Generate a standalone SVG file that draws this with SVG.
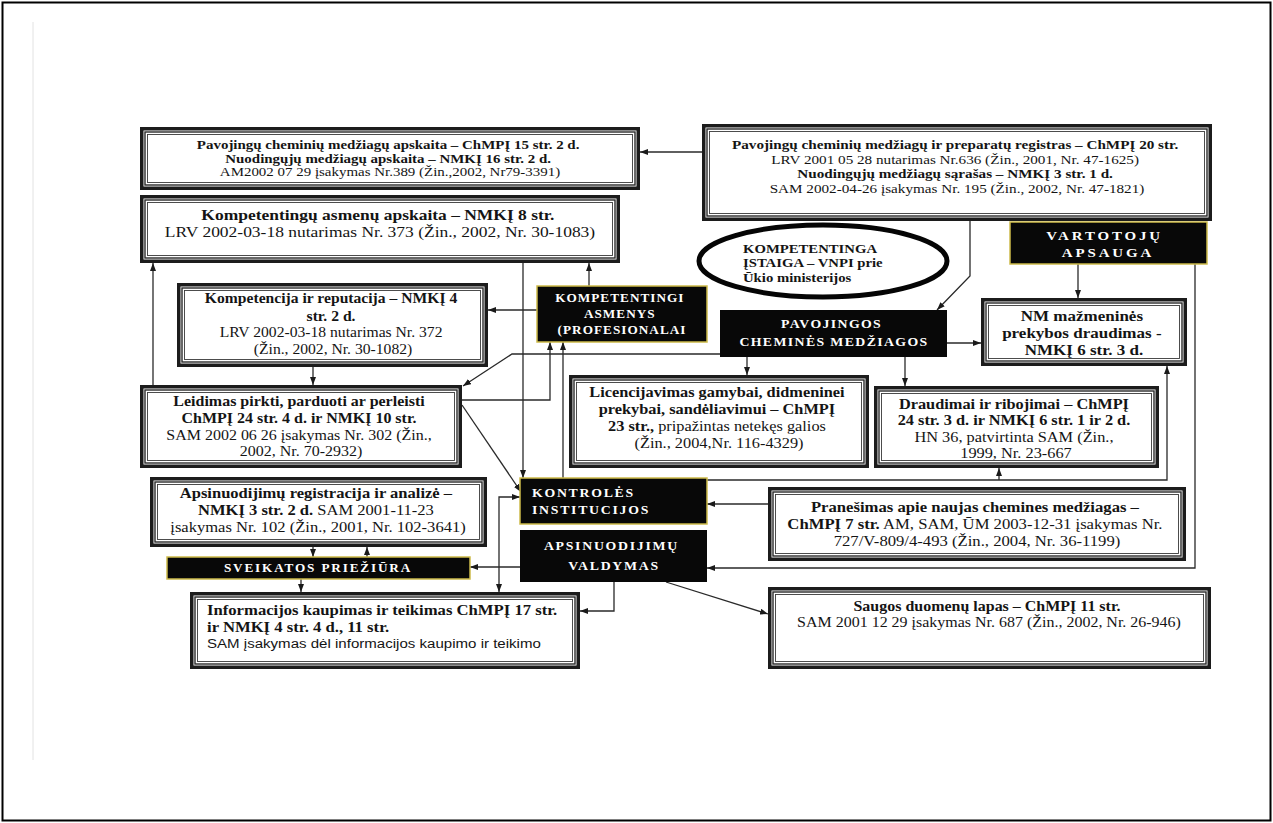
<svg xmlns="http://www.w3.org/2000/svg" width="1273" height="823" viewBox="0 0 1273 823">
<defs>
<style>
.f1{fill:#fff;stroke:#1c1c1c;stroke-width:3.5}
.f2{fill:none;stroke:#2a2a2a;stroke-width:1.4}
.f3{fill:none;stroke:#3a3a3a;stroke-width:0.9}
.blk{fill:#080808}
.yb{stroke:#cdbb4a;stroke-width:1.5}
.t{font-family:"Liberation Serif","Times New Roman",serif;fill:#141414;text-anchor:middle}
.tl{font-family:"Liberation Serif","Times New Roman",serif;fill:#141414;text-anchor:start}
.sans{font-family:"Liberation Sans",Arial,sans-serif}
.b{font-weight:bold}
.w{font-family:"Liberation Serif","Times New Roman",serif;fill:#fff;font-weight:bold;text-anchor:middle}
.wl{font-family:"Liberation Serif","Times New Roman",serif;fill:#fff;font-weight:bold;text-anchor:start}
.c{fill:none;stroke:#2a2a2a;stroke-width:1.3}
.ca{fill:none;stroke:#2a2a2a;stroke-width:1.3;marker-end:url(#ah)}
</style>
<marker id="ah" viewBox="0 0 8 6" refX="8" refY="3" markerWidth="8" markerHeight="6" markerUnits="userSpaceOnUse" orient="auto-start-reverse"><path d="M0,0 L8,3 L0,6 z" fill="#1a1a1a"/></marker>
</defs>
<rect x="0" y="0" width="1273" height="823" fill="#fff"/>
<rect x="2.5" y="2.5" width="1268" height="818" fill="none" stroke="#000" stroke-width="2"/>
<line x1="33" y1="22" x2="33" y2="760" stroke="#e2e2e2" stroke-width="1"/>

<g id="connectors">
<path class="ca" d="M702,152 H640"/>
<path class="ca" d="M970,221 V276 L937,310"/>
<path class="ca" d="M1078,264 V298"/>
<path class="ca" d="M1195,264 V568 H707"/>
<path class="ca" d="M947,343 H981"/>
<path class="ca" d="M747,357 V375"/>
<path class="ca" d="M905,357 V386"/>
<path class="ca" d="M720,354 H512 L463,386"/>
<path class="ca" d="M707,480 H1167 V366"/>
<path class="ca" d="M999,480 V468"/>
<path class="ca" d="M768,504 H707"/>
<path class="ca" d="M589,286 V263"/>
<path class="ca" d="M537,310 H488"/>
<path class="ca" d="M523,263 V478"/>
<path class="ca" d="M153,385 V263"/>
<path class="ca" d="M313,367 V385"/>
<path class="ca" d="M462,400 H550 V342"/>
<path class="ca" d="M462,405 L521,492"/>
<path class="ca" d="M563,478 V342"/>
<path class="ca" d="M520,497 H499 V592" marker-start="url(#ah)"/>
<path class="ca" d="M520,567 H470"/>
<path class="ca" d="M614,582 V611 H580"/>
<path class="ca" d="M666,582 L768,614"/>
<path class="ca" d="M301,579 V592"/>
<path class="ca" d="M313,547 V557"/>
<path class="ca" d="M367,557 V547"/>
</g>

<g id="n-apskaita">
<rect class="f1" x="141.75" y="128.75" width="496.5" height="59.5"/>
<rect class="f2" x="145" y="132" width="490" height="53"/>
<rect class="f3" x="147.5" y="134.5" width="485" height="48"/>
<text class="t" font-size="13" transform="translate(390 0) scale(1.15 1)">
<tspan x="0" y="149.5" class="b">Pavojingų cheminių medžiagų apskaita – ChMPĮ 15 str. 2 d.</tspan>
<tspan x="0" y="163" class="b">Nuodingųjų medžiagų apskaita – NMKĮ 16 str. 2 d.</tspan>
<tspan x="0" y="176.5">AM2002 07 29 įsakymas Nr.389 (Žin.,2002, Nr79-3391)</tspan>
</text>
</g>

<g id="n-registras">
<rect class="f1" x="703.75" y="125.75" width="506.5" height="93.5"/>
<rect class="f2" x="707" y="129" width="500" height="87"/>
<rect class="f3" x="709.5" y="131.5" width="495" height="82"/>
<text class="t" font-size="13.2" transform="translate(957 0) scale(1.15 1)">
<tspan x="0" y="149.5" class="b">Pavojingų cheminių medžiagų ir preparatų registras – ChMPĮ 20 str.</tspan>
<tspan x="0" y="164">LRV 2001 05 28 nutarimas Nr.636 (Žin., 2001, Nr. 47-1625)</tspan>
<tspan x="0" y="178.5" class="b">Nuodingųjų medžiagų sąrašas – NMKĮ 3 str. 1 d.</tspan>
<tspan x="0" y="193">SAM 2002-04-26 įsakymas Nr. 195 (Žin., 2002, Nr. 47-1821)</tspan>
</text>
</g>

<g id="n-asmenu-apskaita">
<rect class="f1" x="141.75" y="196.75" width="476.5" height="64.5"/>
<rect class="f2" x="145" y="200" width="470" height="58"/>
<rect class="f3" x="147.5" y="202.5" width="465" height="53"/>
<text class="t" font-size="15.2" transform="translate(380 0) scale(1.15 1)">
<tspan x="0" y="220" class="b">Kompetentingų asmenų apskaita – NMKĮ 8 str.</tspan>
<tspan x="0" y="237">LRV 2002-03-18 nutarimas Nr. 373 (Žin., 2002, Nr. 30-1083)</tspan>
</text>
</g>

<g id="n-istaiga">
<ellipse cx="823" cy="261" rx="124" ry="36" fill="#fff" stroke="#050505" stroke-width="5"/>
<text class="tl b" font-size="12.8" transform="translate(743 0) scale(1.15 1)">
<tspan x="0" y="253">KOMPETENTINGA</tspan>
<tspan x="0" y="267.5">ĮSTAIGA – VNPI prie</tspan>
<tspan x="0" y="282">Ūkio ministerijos</tspan>
</text>
</g>

<g id="n-vartotoju">
<rect class="blk yb" x="1010" y="222" width="197" height="42"/>
<text class="w" font-size="13" letter-spacing="2.5" transform="translate(1108 0) scale(1.15 1)">
<tspan x="0" y="240.5">VARTOTOJŲ</tspan>
<tspan x="0" y="257.5">APSAUGA</tspan>
</text>
</g>

<g id="n-kompetentingi">
<rect class="blk yb" x="537" y="286" width="170" height="56"/>
<text class="w" font-size="11.5" letter-spacing="0.9" transform="translate(622 0) scale(1.15 1)">
<tspan x="0" y="302">KOMPETENTINGI</tspan>
<tspan x="0" y="318">ASMENYS</tspan>
<tspan x="0" y="334">(PROFESIONALAI</tspan>
</text>
</g>

<g id="n-pavojingos">
<rect class="blk" x="720" y="310" width="227" height="47"/>
<text class="w" font-size="12" letter-spacing="1.2" transform="translate(834 0) scale(1.15 1)">
<tspan x="0" y="328">PAVOJINGOS</tspan>
<tspan x="0" y="346">CHEMINĖS MEDŽIAGOS</tspan>
</text>
</g>

<g id="n-nm">
<rect class="f1" x="982.75" y="299.75" width="202.5" height="64.5"/>
<rect class="f2" x="986" y="303" width="196" height="58"/>
<rect class="f3" x="988.5" y="305.5" width="191" height="53"/>
<text class="t b" font-size="14.8" transform="translate(1084 0) scale(1.15 1)">
<tspan x="0" y="321">NM mažmeninės</tspan>
<tspan x="0" y="338">prekybos draudimas -</tspan>
<tspan x="0" y="355">NMKĮ 6 str. 3 d.</tspan>
</text>
</g>

<g id="n-kompetencija">
<rect class="f1" x="178.75" y="284.75" width="307.5" height="80.5"/>
<rect class="f2" x="182" y="288" width="301" height="74"/>
<rect class="f3" x="184.5" y="290.5" width="296" height="69"/>
<text class="t" font-size="13.6" transform="translate(333 0) scale(1.15 1)">
<tspan x="0" y="303.5" class="b">Kompetencija ir reputacija – NMKĮ 4</tspan>
<tspan x="0" y="320.5" class="b">str. 2 d.</tspan>
<tspan x="0" y="337.5">LRV 2002-03-18 nutarimas Nr. 372</tspan>
<tspan x="0" y="354.5">(Žin., 2002, Nr. 30-1082)</tspan>
</text>
</g>

<g id="n-leidimas">
<rect class="f1" x="141.75" y="386.75" width="318.5" height="79.5"/>
<rect class="f2" x="145" y="390" width="312" height="73"/>
<rect class="f3" x="147.5" y="392.5" width="307" height="68"/>
<text class="t" font-size="13.9" transform="translate(301 0) scale(1.15 1)">
<tspan x="0" y="406.5" class="b">Leidimas pirkti, parduoti ar perleisti</tspan>
<tspan x="0" y="423.5" class="b">ChMPĮ 24 str. 4 d. ir NMKĮ 10 str.</tspan>
<tspan x="0" y="440.5">SAM 2002 06 26 įsakymas Nr. 302 (Žin.,</tspan>
<tspan x="0" y="456.5">2002, Nr. 70-2932)</tspan>
</text>
</g>

<g id="n-licencijavimas">
<rect class="f1" x="570.75" y="376.75" width="296.5" height="89.5"/>
<rect class="f2" x="574" y="380" width="290" height="83"/>
<rect class="f3" x="576.5" y="382.5" width="285" height="78"/>
<text class="t" font-size="14.2" transform="translate(719 0) scale(1.15 1)">
<tspan x="0" y="397" class="b">Licencijavimas gamybai, didmeninei</tspan>
<tspan x="0" y="414" class="b">prekybai, sandėliavimui  – ChMPĮ</tspan>
<tspan x="0" y="431"><tspan class="b">23 str.,</tspan> pripažintas netekęs galios</tspan>
<tspan x="0" y="448">(Žin., 2004,Nr. 116-4329)</tspan>
</text>
</g>

<g id="n-draudimai">
<rect class="f1" x="875.75" y="387.75" width="281.5" height="78.5"/>
<rect class="f2" x="879" y="391" width="275" height="72"/>
<rect class="f3" x="881.5" y="393.5" width="270" height="67"/>
<text class="t" font-size="14.2" transform="translate(1016 0) scale(1.15 1)">
<tspan x="0" y="409" class="b">Draudimai ir ribojimai – ChMPĮ</tspan>
<tspan x="0" y="425" class="b">24 str. 3 d. ir NMKĮ 6 str. 1 ir 2 d.</tspan>
<tspan x="0" y="442">HN 36, patvirtinta SAM (Žin.,</tspan>
<tspan x="0" y="458">1999, Nr. 23-667</tspan>
</text>
</g>

<g id="n-registracija">
<rect class="f1" x="151.75" y="478.75" width="333.5" height="66.5"/>
<rect class="f2" x="155" y="482" width="327" height="60"/>
<rect class="f3" x="157.5" y="484.5" width="322" height="55"/>
<text class="t" font-size="14.4" transform="translate(318 0) scale(1.15 1)">
<tspan x="0" y="498" class="b">Apsinuodijimų registracija ir analizė –</tspan>
<tspan x="0" y="515"><tspan class="b">NMKĮ 3 str. 2 d.</tspan> SAM 2001-11-23</tspan>
<tspan x="0" y="532">įsakymas Nr. 102 (Žin., 2001, Nr. 102-3641)</tspan>
</text>
</g>

<g id="n-kontroles">
<rect class="blk yb" x="520" y="478" width="187" height="46"/>
<text class="wl" font-size="12" letter-spacing="1.5" transform="translate(532 0) scale(1.15 1)">
<tspan x="0" y="497.5">KONTROLĖS</tspan>
<tspan x="0" y="514.5">INSTITUCIJOS</tspan>
</text>
</g>

<g id="n-apsinuodijimu-valdymas">
<rect class="blk" x="520" y="530" width="187" height="52"/>
<text class="w" font-size="12" letter-spacing="1.5" transform="translate(614 0) scale(1.15 1)">
<tspan x="0" y="550">APSINUODIJIMŲ</tspan>
<tspan x="0" y="570">VALDYMAS</tspan>
</text>
</g>

<g id="n-sveikatos">
<rect class="blk yb" x="167" y="557" width="303" height="22"/>
<text class="w" font-size="11.5" letter-spacing="1.6" transform="translate(318 0) scale(1.15 1)">
<tspan x="0" y="572">SVEIKATOS PRIEŽIŪRA</tspan>
</text>
</g>

<g id="n-pranesimas">
<rect class="f1" x="769.75" y="488.75" width="414.5" height="70.5"/>
<rect class="f2" x="773" y="492" width="408" height="64"/>
<rect class="f3" x="775.5" y="494.5" width="403" height="59"/>
<text class="t" font-size="14.5" transform="translate(977 0) scale(1.15 1)">
<tspan x="0" y="512" class="b">Pranešimas apie naujas chemines medžiagas –</tspan>
<tspan x="0" y="529"><tspan class="b">ChMPĮ 7 str.</tspan> AM, SAM, ŪM 2003-12-31 įsakymas Nr.</tspan>
<tspan x="0" y="546">727/V-809/4-493 (Žin., 2004, Nr. 36-1199)</tspan>
</text>
</g>

<g id="n-informacijos">
<rect class="f1" x="191.75" y="593.75" width="386.5" height="73.5"/>
<rect class="f2" x="195" y="597" width="380" height="67"/>
<rect class="f3" x="197.5" y="599.5" width="375" height="62"/>
<text class="tl b" font-size="14.5" transform="translate(207 0) scale(1.15 1)">
<tspan x="0" y="615">Informacijos kaupimas ir teikimas ChMPĮ 17 str.</tspan>
<tspan x="0" y="632">ir NMKĮ 4 str. 4 d., 11 str.</tspan>
</text>
<text class="tl sans" font-size="13.1" transform="translate(207 0) scale(1.15 1)"><tspan x="0" y="648.5">SAM įsakymas dėl informacijos kaupimo ir teikimo</tspan></text>
</g>

<g id="n-saugos">
<rect class="f1" x="769.75" y="588.75" width="439.5" height="78.5"/>
<rect class="f2" x="773" y="592" width="433" height="72"/>
<rect class="f3" x="775.5" y="594.5" width="428" height="67"/>
<text class="t" font-size="13.9" transform="translate(989 0) scale(1.15 1)">
<tspan x="0" y="611" class="b">Saugos duomenų lapas – ChMPĮ 11 str.</tspan>
<tspan x="0" y="627">SAM 2001 12 29 įsakymas Nr. 687 (Žin., 2002, Nr. 26-946)</tspan>
</text>
</g>
</svg>
